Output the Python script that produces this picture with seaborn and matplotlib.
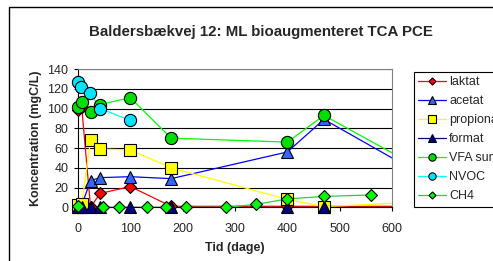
import matplotlib
matplotlib.use("Agg")
import matplotlib.pyplot as plt
import matplotlib.patches as mpatches
from matplotlib.lines import Line2D
import seaborn as sns
import pandas as pd

sns.set_theme(style="white")
plt.rcParams['font.family'] = ['Liberation Sans', 'DejaVu Sans']

# ---- data ----
laktat_x = [0, 7, 24, 42, 100, 178, 400, 470, 700]
laktat_y = [98, 102, 0, 14, 21, 1, 1, 1, 1]
acetat_x = [0, 7, 24, 42, 100, 178, 400, 470, 700]
acetat_y = [0, 2, 27, 30, 31, 29, 56, 89, 20]
propionat_x = [0, 7, 24, 42, 100, 178, 400, 470, 700]
propionat_y = [2, 3, 68, 59, 58, 40, 8, 0.6, 6.6]
format_x = [0, 7, 24, 42, 100, 178, 400, 470, 700]
format_y = [0.3, 0.3, 0.3, 0.3, 0.3, 0.3, 0.3, 0.3, 0.3]
vfa_x = [0, 7, 24, 42, 100, 178, 400, 470, 700]
vfa_y = [102, 107, 96, 104, 111, 70, 66, 93, 26]
nvoc_x = [0, 6, 23, 42, 100]
nvoc_y = [127, 122, 116, 100, 88]
ch4_x = [0, 48, 78, 132, 168, 206, 283, 341, 400, 470, 560]
ch4_y = [1, 0, 0, 0, 0, 0, 0, 3, 8.5, 11, 12.5]

series = [
    ("laktat", laktat_x, laktat_y, "#FF0000", "D", "#FF0000", 6.0),
    ("acetat", acetat_x, acetat_y, "#0000FF", "^", "#3366FF", 8.5),
    ("propionat", propionat_x, propionat_y, "#FFFF00", "s", "#FFFF00", 8.5),
    ("format", format_x, format_y, "#000080", "^", "#000080", 8.5),
    ("VFA sum", vfa_x, vfa_y, "#00FF00", "o", "#00DD00", 8.8),
    ("NVOC", nvoc_x, nvoc_y, "#00FFFF", "o", "#00E5FF", 8.8),
    ("CH4", ch4_x, ch4_y, "#33CC33", "D", "#00FF00", 6.0),
]

XMAX = 600

fig = plt.figure(figsize=(4.93, 2.61), dpi=100)
fig.patch.set_facecolor("white")
ax = fig.add_axes([78/493, 1-207.3/261, (392-78)/493, (207.3-69)/261])

handles = []
for i, (name, xs, ys, lc, mk, mfc, ms) in enumerate(series):
    df = pd.DataFrame({"x": xs, "y": ys})
    # connecting line (clipped to plot area)
    sns.lineplot(data=df, x="x", y="y", ax=ax, color=lc, lw=0.9,
                 sort=False, estimator=None, legend=False, zorder=2 + i * 0.1)
    # markers (not clipped, like the original chart)
    dfm = df[df["x"] <= XMAX]
    sns.lineplot(data=dfm, x="x", y="y", ax=ax, lw=0, marker=mk,
                 markersize=ms, markerfacecolor=mfc, markeredgecolor="black",
                 markeredgewidth=0.8, sort=False, estimator=None,
                 legend=False, clip_on=False, zorder=3 + i * 0.1)
    handles.append(Line2D([], [], color=lc, lw=0.9, marker=mk,
                          markersize=ms * 0.6, markerfacecolor=mfc,
                          markeredgecolor="black", markeredgewidth=0.8,
                          label=name))

ax.set_xlim(0, XMAX)
ax.set_ylim(0, 140)
ax.set_xticks(range(0, 601, 100))
ax.set_yticks(range(0, 141, 20))
ax.yaxis.grid(True, color="black", lw=0.8)
ax.set_axisbelow(True)
for s in ax.spines.values():
    s.set_color("#808080")
    s.set_linewidth(0.8)
ax.spines["left"].set_color("black")
ax.spines["bottom"].set_color("black")
ax.tick_params(axis="both", which="major", labelsize=9, direction="out",
               length=3, width=0.8, color="black")
ax.tick_params(axis="x", bottom=True, pad=8.5)
ax.tick_params(axis="y", left=True, pad=4)
ax.set_xlabel("Tid (dage)", fontsize=9, fontweight="bold", labelpad=5)
ax.set_ylabel("Koncentration (mgC/L)", fontsize=9, fontweight="bold", labelpad=4)

fig.text(0.529, 0.879, "Baldersbækvej 12: ML bioaugmenteret TCA PCE",
         ha="center", va="center", fontsize=10.8, fontweight="bold")

leg = fig.legend(handles=handles, loc="upper left",
                 bbox_to_anchor=(414/493, 1-72/261), fontsize=9,
                 frameon=True, fancybox=False, framealpha=1,
                 edgecolor="black", handlelength=2.2,
                 handletextpad=0.25, labelspacing=0.56, borderpad=0.35,
                 borderaxespad=0)
leg.get_frame().set_linewidth(0.8)

rect = mpatches.Rectangle((9/493, -0.1), 1.2, (1-7/261)+0.1,
                          transform=fig.transFigure, fill=False,
                          edgecolor="black", lw=1.0)
fig.patches.append(rect)

fig.savefig("out.png", dpi=100)
